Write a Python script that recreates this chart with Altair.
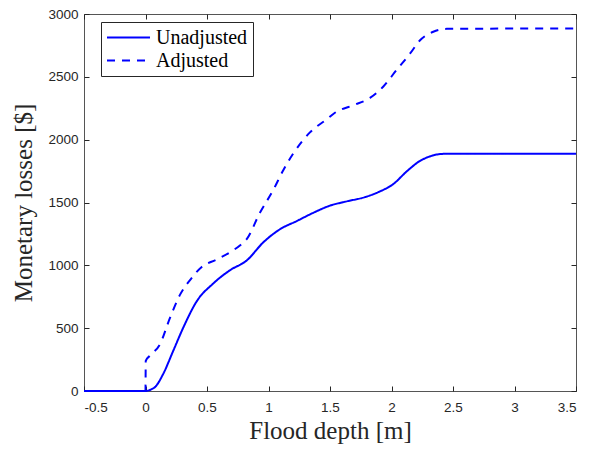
import altair as alt
import pandas as pd

# Data
depth_unadj = [-0.5, 0, 0.04, 0.08, 0.145, 0.226, 0.307, 0.416, 0.551, 0.687, 0.823, 0.958,
               1.093, 1.229, 1.364, 1.5, 1.636, 1.785, 1.906, 2.015, 2.12, 2.23, 2.31, 2.39,
               2.45, 3.5]
loss_unadj = [0, 0, 10, 34, 138, 321, 504, 713, 856, 961, 1039, 1183,
              1287, 1352, 1418, 1475, 1509, 1543, 1588, 1647, 1744, 1830, 1866, 1885,
              1888, 1888]

depth_adj = [-0.5, 0, 0.002, 0.037, 0.118, 0.199, 0.28, 0.362, 0.457, 0.579, 0.687, 0.77,
             0.823, 0.93, 1.039, 1.12, 1.2, 1.337, 1.473, 1.54, 1.69, 1.825, 1.934, 2.04,
             2.15, 2.23, 2.34, 2.45, 3.5]
loss_adj = [0, 0, 240, 282, 373, 582, 765, 883, 987, 1047, 1104, 1160,
            1209, 1418, 1600, 1757, 1888, 2058, 2162, 2214, 2274, 2332, 2423, 2553,
            2684, 2789, 2859, 2882, 2885]

series = ["Unadjusted", "Adjusted"]
x_ticks = [-0.5, 0, 0.5, 1, 1.5, 2, 2.5, 3, 3.5]
y_ticks = [0, 500, 1000, 1500, 2000, 2500, 3000]

df = pd.concat([
    pd.DataFrame({"depth": depth_unadj, "loss": loss_unadj, "series": series[0],
                  "order": list(range(len(depth_unadj)))}),
    pd.DataFrame({"depth": depth_adj, "loss": loss_adj, "series": series[1],
                  "order": list(range(len(depth_adj)))}),
], ignore_index=True)

AX = "#262626"
SANS = "Liberation Sans"
SERIF = "Liberation Serif"

xs = alt.Scale(domain=[-0.5, 3.5], nice=False, zero=False)
ys = alt.Scale(domain=[0, 3000], nice=False, zero=False)

lines = alt.Chart(df).mark_line(color="#0000ff", strokeWidth=2, interpolate="monotone").encode(
    x=alt.X("depth:Q", scale=xs,
            axis=alt.Axis(orient="bottom", values=x_ticks, offset=-5, tickSize=5, tickColor=AX,
                          domain=False, grid=False, labelPadding=9, labelFont=SANS,
                          labelFontSize=13.5, labelColor=AX,
                          labelExpr="datum.value < 0 ? '-' + format(-datum.value, '~g') : format(datum.value, '~g')",
                          title="Flood depth [m]", titleFont=SERIF, titleFontSize=25,
                          titleFontWeight="normal", titleColor=AX, titlePadding=5)),
    y=alt.Y("loss:Q", scale=ys,
            axis=alt.Axis(orient="left", values=y_ticks, offset=-5, tickSize=5, tickColor=AX,
                          domain=False, grid=False, labelPadding=6, labelFont=SANS,
                          labelFontSize=13.5, labelColor=AX,
                          labelExpr="format(datum.value, 'd')",
                          title="Monetary losses [$]", titleFont=SERIF, titleFontSize=25,
                          titleFontWeight="normal", titleColor=AX, titlePadding=11)),
    strokeDash=alt.StrokeDash(
        "series:N",
        scale=alt.Scale(domain=series, range=[[1, 0], [8, 7]]),
        legend=alt.Legend(orient="none", legendX=17, legendY=8, title=None,
                          fillColor="white", strokeColor=AX, padding=5, cornerRadius=0,
                          labelFont=SERIF, labelFontSize=20, labelColor="#000000",
                          symbolType="stroke", symbolSize=1849, symbolStrokeWidth=2,
                          symbolStrokeColor="#0000ff", labelOffset=5, rowPadding=2,
                          clipHeight=21),
    ),
    order="order:Q",
)

ticks = alt.Chart(df).mark_line(strokeOpacity=0).encode(
    x=alt.X("depth:Q", scale=xs,
            axis=alt.Axis(orient="top", values=x_ticks, offset=-5, tickSize=5, tickColor=AX,
                          domain=False, grid=False, labels=False, title=None)),
    y=alt.Y("loss:Q", scale=ys,
            axis=alt.Axis(orient="right", values=y_ticks, offset=-5, tickSize=5, tickColor=AX,
                          domain=False, grid=False, labels=False, title=None)),
    order="order:Q",
)

chart = alt.layer(lines, ticks).resolve_axis(x="independent", y="independent").properties(
    width=492, height=377,
    padding={"left": 76, "top": 6, "right": 10, "bottom": 57},
    autosize=alt.AutoSizeParams(type="none"),
    background="white",
).configure_view(stroke="#555555", strokeWidth=1)

chart.save("out.html", embed_options={"renderer": "svg", "actions": False})
